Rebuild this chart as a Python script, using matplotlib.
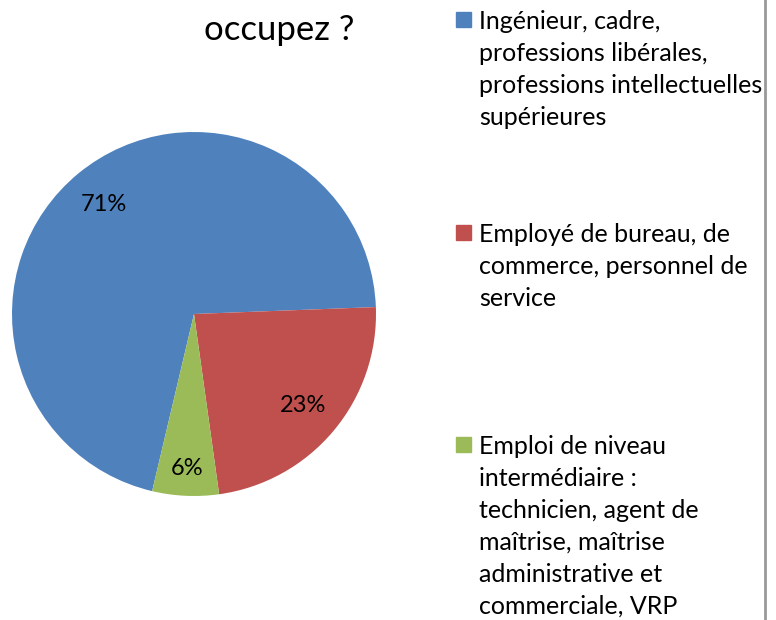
import matplotlib.pyplot as plt
from matplotlib.lines import Line2D
from matplotlib.patches import Rectangle

plt.rcParams['font.family'] = ['Lato', 'DejaVu Sans']

title = "occupez ?"
categories = [
    "Ingénieur, cadre,\nprofessions libérales,\nprofessions intellectuelles\nsupérieures",
    "Employé de bureau, de\ncommerce, personnel de\nservice",
    "Emploi de niveau\nintermédiaire :\ntechnicien, agent de\nmaîtrise, maîtrise\nadministrative et\ncommerciale, VRP",
]
shares = [70.7, 23.4, 5.9]
colors = ['#4F81BD', '#C0504D', '#9BBB59']

W, H = 776, 620
fig = plt.figure(figsize=(W / 100, H / 100), dpi=100, facecolor='w')

# pie: centre (194, 314) px, radius 182 px
cx, cy, r = 194, 314, 182
ax = fig.add_axes([(cx - r) / W, (H - cy - r) / H, 2 * r / W, 2 * r / H])
wedges, texts, autotexts = ax.pie(shares, colors=colors, startangle=256.7,
                                  counterclock=False, radius=1,
                                  autopct='%1.0f%%', pctdistance=0.78,
                                  textprops={'fontsize': 17, 'color': 'black'})
# small slice label sits further out
x, y = autotexts[2].get_position()
autotexts[2].set_position((x * 0.85 / 0.78, y * 0.85 / 0.78))
ax.set_xlim(-1, 1)
ax.set_ylim(-1, 1)
ax.set_aspect('auto')

fig.text(279 / W, 1 - 30 / H, title, ha='center', va='center', fontsize=25)

# legend
legend_tops = [20, 233, 445]
for label, color, ytop in zip(categories, colors, legend_tops):
    fig.patches.append(Rectangle((456 / W, 1 - (ytop + 7) / H), 15 / W, 15 / H,
                                 transform=fig.transFigure, color=color))
    fig.text(479 / W, 1 - (ytop - 10) / H, label, ha='left', va='top',
             fontsize=18, linespacing=1.47)

fig.add_artist(Line2D([765 / W, 765 / W], [0, 1], transform=fig.transFigure,
                      color='#999999', lw=2))

fig.savefig('out.png', dpi=100)
